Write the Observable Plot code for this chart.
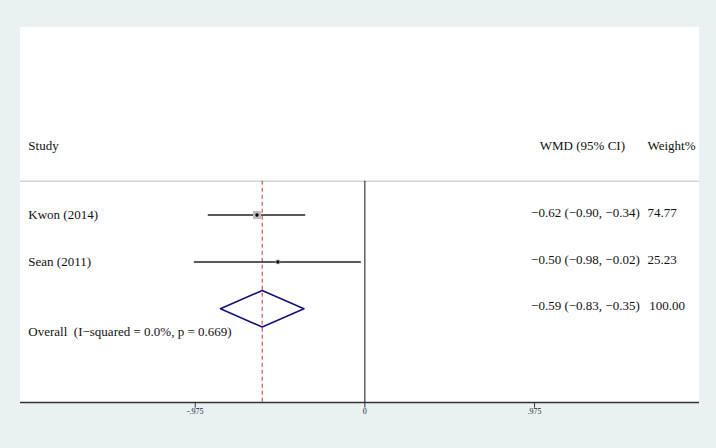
<!DOCTYPE html>
<html>
<head>
<meta charset="utf-8">
<script src="https://cdn.jsdelivr.net/npm/d3@7"></script>
<script src="https://cdn.jsdelivr.net/npm/@observablehq/plot@0.6"></script>
<style>
  html, body { margin: 0; padding: 0; background: #e9f1f3; }
  #chart { width: 716px; height: 448px; }
</style>
</head>
<body>
<div id="chart"></div>
<script>
// ---- data ----
const studies = ["Kwon (2014)", "Sean (2011)"];
const estimates = [-0.62, -0.50];
const lower = [-0.90, -0.98];
const upper = [-0.34, -0.02];
const weights = [74.77, 25.23];
const ciLabels = ["\u22120.62 (\u22120.90, \u22120.34)", "\u22120.50 (\u22120.98, \u22120.02)"];
const weightLabels = ["74.77", "25.23"];

const overall = {est: -0.59, lo: -0.83, hi: -0.35};
const overallLabel = "Overall  (I\u2212squared = 0.0%, p = 0.669)";
const overallCI = "\u22120.59 (\u22120.83, \u22120.35)";
const overallWeight = "100.00";

const headers = {study: "Study", ci: "WMD (95% CI)", weight: "Weight%"};
const tickValues = [-0.975, 0, 0.975];
const tickLabels = ["-.975", "0", ".975"];

// ---- layout (row index space) ----
const xDomain = [-1.979, 1.923];
const headerRow = -1.47, sepRow = -0.72, axisRow = 4, overallRow = 2;
const xText = xDomain[0] + 0.045, xCI = 0.955, xW = 1.624;

const rows = studies.map((s, i) => ({
  study: s, est: estimates[i], lo: lower[i], hi: upper[i], w: weights[i],
  ci: ciLabels[i], wl: weightLabels[i], row: i
}));

const diamond = [
  {x: overall.lo, y: overallRow},
  {x: overall.est, y: overallRow - 0.39},
  {x: overall.hi, y: overallRow},
  {x: overall.est, y: overallRow + 0.39},
  {x: overall.lo, y: overallRow}
];

const ticks = tickValues.map((v, i) => ({v, label: tickLabels[i]}));
const font = "'Liberation Serif', 'Times New Roman', serif";

const chart = Plot.plot({
  width: 716,
  height: 448,
  margin: 0,
  style: {background: "#e9f1f3", fontFamily: font},
  x: {domain: xDomain, range: [20, 699], axis: null},
  y: {domain: [-4, 4], range: [27, 402], axis: null},
  r: {type: "identity"},
  marks: [
    // white panel
    Plot.rect([{}], {x1: xDomain[0], x2: xDomain[1], y1: -4, y2: axisRow, fill: "white"}),
    // separator
    Plot.ruleY([sepRow], {x1: xDomain[0], x2: xDomain[1], stroke: "#cfd4d6", strokeWidth: 1.5}),
    // null line
    Plot.ruleX([0], {y1: sepRow, y2: axisRow, stroke: "#111", strokeWidth: 1}),
    // overall dashed line
    Plot.ruleX([overall.est], {y1: sepRow, y2: axisRow, stroke: "#c0392b", strokeWidth: 1, strokeDasharray: "4,3"}),
    // CIs
    Plot.ruleY(rows, {y: "row", x1: "lo", x2: "hi", stroke: "#222", strokeWidth: 1.5}),
    // weight squares
    Plot.dot(rows, {x: "est", y: "row", symbol: "square", r: d => Math.sqrt(d.w) * 0.52, fill: "#bdbdbd", stroke: "none"}),
    Plot.dot(rows, {x: "est", y: "row", r: 1.7, fill: "#000"}),
    // diamond
    Plot.line(diamond, {x: "x", y: "y", stroke: "#12127a", strokeWidth: 1.5}),
    // headers
    Plot.text([headers.study], {x: xText, y: headerRow, text: d => d, textAnchor: "start", fontSize: 13, fill: "#111"}),
    Plot.text([headers.ci], {x: xCI + 0.05, y: headerRow, text: d => d, textAnchor: "start", fontSize: 13, fill: "#111"}),
    Plot.text([headers.weight], {x: xW, y: headerRow, text: d => d, textAnchor: "start", fontSize: 13, fill: "#111"}),
    // study labels
    Plot.text(rows, {x: xText, y: "row", text: "study", textAnchor: "start", fontSize: 13, fill: "#111"}),
    Plot.text(rows, {x: xCI, y: "row", dy: -2, text: "ci", textAnchor: "start", fontSize: 13, fill: "#111"}),
    Plot.text(rows, {x: xW, y: "row", dy: -2, text: "wl", textAnchor: "start", fontSize: 13, fill: "#111"}),
    // overall labels
    Plot.text([overallLabel], {x: xText, y: overallRow + 0.49, text: d => d, textAnchor: "start", fontSize: 13, fill: "#111"}),
    Plot.text([overallCI], {x: xCI, y: overallRow, dy: -3, text: d => d, textAnchor: "start", fontSize: 13, fill: "#111"}),
    Plot.text([overallWeight], {x: xW + 0.01, y: overallRow, dy: -3, text: d => d, textAnchor: "start", fontSize: 13, fill: "#111"}),
    // axis
    Plot.ruleY([axisRow], {x1: xDomain[0], x2: xDomain[1], stroke: "#333", strokeWidth: 1.5}),
    Plot.ruleX(ticks, {x: "v", y1: axisRow, y2: axisRow + 0.12, stroke: "#333", strokeWidth: 1}),
    Plot.text(ticks, {x: "v", y: axisRow, dy: 9, text: "label", fontSize: 8, fill: "#222"})
  ]
});
document.getElementById("chart").append(chart);
</script>
</body>
</html>
